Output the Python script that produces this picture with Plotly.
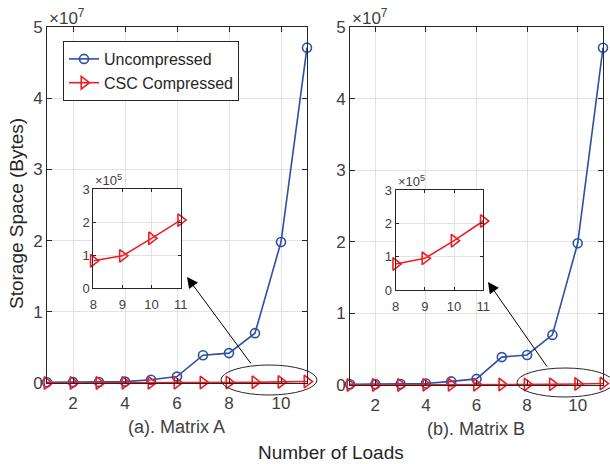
import plotly.graph_objects as go

# ---------------- data ----------------
loads = [1, 2, 3, 4, 5, 6, 7, 8, 9, 10, 11]
uncompressed_a = [1.0e5, 1.2e5, 1.5e5, 2.0e5, 4.5e5, 9.0e5, 3.9e6, 4.2e6, 7.0e6, 1.98e7, 4.71e7]
csc_a = [2.0e3, 5.0e3, 1.0e4, 1.8e4, 3.0e4, 4.5e4, 6.5e4, 0.83e5, 0.98e5, 1.51e5, 2.06e5]
uncompressed_b = [1.0e5, 1.2e5, 1.5e5, 2.0e5, 5.0e5, 8.5e5, 3.9e6, 4.2e6, 7.0e6, 1.98e7, 4.71e7]
csc_b = [2.0e3, 5.0e3, 1.0e4, 1.8e4, 3.0e4, 4.5e4, 6.0e4, 0.78e5, 0.95e5, 1.48e5, 2.07e5]

inset_start = 7  # index of load 8

main_xticks = [2, 4, 6, 8, 10]
main_yticks = [0, 1e7, 2e7, 3e7, 4e7, 5e7]
main_yticktext = ["0", "1", "2", "3", "4", "5"]
inset_xticks = [8, 9, 10, 11]
inset_yticks = [0, 1e5, 2e5, 3e5]
inset_yticktext = ["0", "1", "2", "3"]

BLUE = "#2D4FA5"
RED = "#EE1D24"
FRAME = "#262626"
GRID = "#E3E3E3"
TICKC = "#404040"
FONT = "Liberation Sans, Arial, Helvetica, sans-serif"

W, H = 610, 464


def px_x(p):
    return p / W


def px_y(p):
    return 1 - p / H


fig = go.Figure()


def add_series(xs, ys, color, symbol, size, xa, ya, name, show):
    fig.add_trace(go.Scatter(
        x=xs, y=ys, mode="lines+markers", name=name, showlegend=show,
        xaxis=xa, yaxis=ya, cliponaxis=False,
        line=dict(color=color, width=1.6),
        marker=dict(symbol=symbol, size=size, color=color, line=dict(color=color, width=1.6)),
    ))


add_series(loads, uncompressed_a, BLUE, "circle-open", 9, "x", "y", "Uncompressed", True)
add_series(loads, csc_a, RED, "triangle-right-open", 11, "x", "y", "CSC Compressed", True)
add_series(loads, uncompressed_b, BLUE, "circle-open", 9, "x2", "y2", "Uncompressed", False)
add_series(loads, csc_b, RED, "triangle-right-open", 11, "x2", "y2", "CSC Compressed", False)
add_series(loads[inset_start:], csc_a[inset_start:], RED, "triangle-right-open", 11, "x3", "y3", "CSC Compressed", False)
add_series(loads[inset_start:], csc_b[inset_start:], RED, "triangle-right-open", 11, "x4", "y4", "CSC Compressed", False)

common = dict(showgrid=True, gridcolor=GRID, gridwidth=1, showline=True, linecolor=FRAME,
              linewidth=1, mirror="ticks", ticks="inside", tickcolor=FRAME, zeroline=False,
              fixedrange=True, automargin=False)

main_x = dict(common, range=[1, 11], tickvals=main_xticks, ticklen=5, ticklabelstandoff=5,
              tickfont=dict(size=17, color=TICKC, family=FONT))
main_y = dict(common, range=[0, 5e7], tickvals=main_yticks, ticktext=main_yticktext, ticklen=5,
              tickfont=dict(size=17, color=TICKC, family=FONT))
ins_x = dict(common, range=[8, 11], tickvals=inset_xticks, ticklen=3, ticklabelstandoff=4,
             tickfont=dict(size=13, color=TICKC, family=FONT))
ins_y = dict(common, range=[0, 3e5], tickvals=inset_yticks, ticktext=inset_yticktext, ticklen=3,
             tickfont=dict(size=13, color=TICKC, family=FONT))

fig.update_layout(
    template="none",
    width=W, height=H, autosize=False,
    margin=dict(l=0, r=0, t=0, b=0, pad=0, autoexpand=False),
    paper_bgcolor="white", plot_bgcolor="white",
    font=dict(family=FONT, color=FRAME),
    xaxis=dict(main_x, domain=[px_x(47), px_x(307)], anchor="y"),
    yaxis=dict(main_y, domain=[px_y(383), px_y(27)], anchor="x"),
    xaxis2=dict(main_x, domain=[px_x(350), px_x(603)], anchor="y2"),
    yaxis2=dict(main_y, domain=[px_y(385), px_y(27)], anchor="x2"),
    xaxis3=dict(ins_x, domain=[px_x(93.3), px_x(180.7)], anchor="y3"),
    yaxis3=dict(ins_y, domain=[px_y(288.3), px_y(189)], anchor="x3"),
    xaxis4=dict(ins_x, domain=[px_x(395.7), px_x(483.3)], anchor="y4"),
    yaxis4=dict(ins_y, domain=[px_y(290), px_y(190)], anchor="x4"),
    legend=dict(x=px_x(63), y=px_y(41), xanchor="left", yanchor="top",
                bgcolor="white", bordercolor=FRAME, borderwidth=1,
                font=dict(size=16, color=FRAME, family=FONT), tracegroupgap=0),
)

# ellipses marking the zoomed region
for (x0, x1, y0, y1) in [(221, 317, 365, 395), (517, 613, 368, 397)]:
    fig.add_shape(type="circle", xref="paper", yref="paper",
                  x0=px_x(x0), x1=px_x(x1), y0=px_y(y1), y1=px_y(y0),
                  line=dict(color=FRAME, width=1))

annotations = []
# arrows
for (hx, hy, tx, ty) in [(187, 277, 252, 365), (488, 282, 548, 368)]:
    annotations.append(dict(x=px_x(hx), y=px_y(hy), xref="paper", yref="paper",
                            ax=tx - hx, ay=ty - hy, showarrow=True, arrowhead=2,
                            arrowsize=2.2, arrowwidth=1, arrowcolor="#000000", text=""))


def label(x, y, text, size, color, xanchor="center", angle=0):
    annotations.append(dict(x=px_x(x), y=px_y(y), xref="paper", yref="paper",
                            xanchor=xanchor, yanchor="middle", showarrow=False,
                            text=text, textangle=angle,
                            font=dict(size=size, color=color, family=FONT)))


# exponent labels
label(47, 17, "×10<sup>7</sup>", 17, TICKC, "left")
label(350, 17, "×10<sup>7</sup>", 17, TICKC, "left")
label(93, 180, "×10<sup>5</sup>", 13, TICKC, "left")
label(396, 181, "×10<sup>5</sup>", 13, TICKC, "left")

# subplot captions
label(176, 427, "(a). Matrix A", 18, TICKC)
label(476, 429, "(b). Matrix B", 18, TICKC)
# shared axis titles
label(331, 452, "Number of Loads", 19, FRAME)
label(16, 214, "Storage Space (Bytes)", 19, FRAME, angle=-90)

fig.update_layout(annotations=annotations)

fig.write_html("out.html", config={"displayModeBar": False},
               post_script="document.body.style.margin='0';")
